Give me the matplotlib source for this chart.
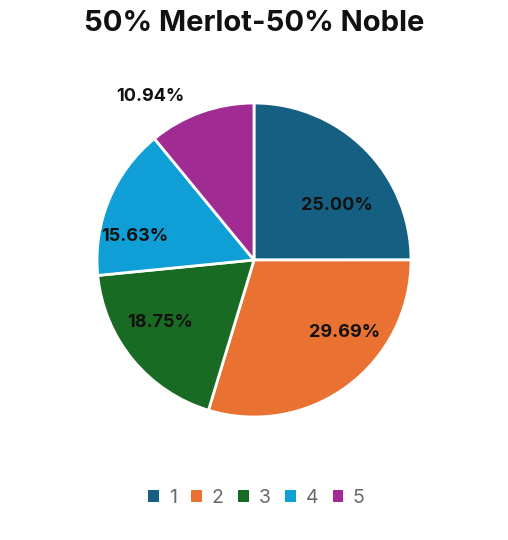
import matplotlib.pyplot as plt
from matplotlib.patches import Patch

# slice shares, in order, clockwise from 12 o'clock
categories = ['1', '2', '3', '4', '5']
shares = [25.00, 29.69, 18.75, 15.63, 10.94]
colors = ['#156082', '#E97132', '#196B24', '#0F9ED5', '#A02B93']

# where each percentage sits, in units of the pie radius
label_pos = [(0.53, 0.35), (0.58, -0.46), (-0.60, -0.40), (-0.76, 0.15), (-0.66, 1.04)]

plt.rcParams['font.family'] = ['Inter', 'DejaVu Sans']

fig = plt.figure(figsize=(5.08, 5.4), dpi=100)
ax = fig.add_axes([97 / 508, 123 / 540, 314 / 508, 314 / 540])

wedges, _ = ax.pie(shares, colors=colors, startangle=90, counterclock=False,
                   wedgeprops={'edgecolor': 'white', 'linewidth': 2})
ax.set_xlim(-1, 1)
ax.set_ylim(-1, 1)
ax.set_aspect('equal')

for val, (x, y) in zip(shares, label_pos):
    ax.text(x, y, f'{val:.2f}%', ha='center', va='center',
            fontsize=13, fontweight='bold', color='#111111')

fig.text(0.5, 0.957, '50% Merlot-50% Noble', ha='center', va='center',
         fontsize=21, fontweight='bold', color='#111111')

handles = [Patch(facecolor=c, edgecolor='none') for c in colors]
fig.legend(handles, categories, loc='center', bbox_to_anchor=(0.505, 0.078),
           ncol=5, frameon=False, fontsize=14, labelcolor='#6a6a6a',
           handlelength=0.55, handleheight=0.55, handletextpad=0.5, columnspacing=0.75)

fig.savefig('out.png', dpi=100, facecolor='white')
